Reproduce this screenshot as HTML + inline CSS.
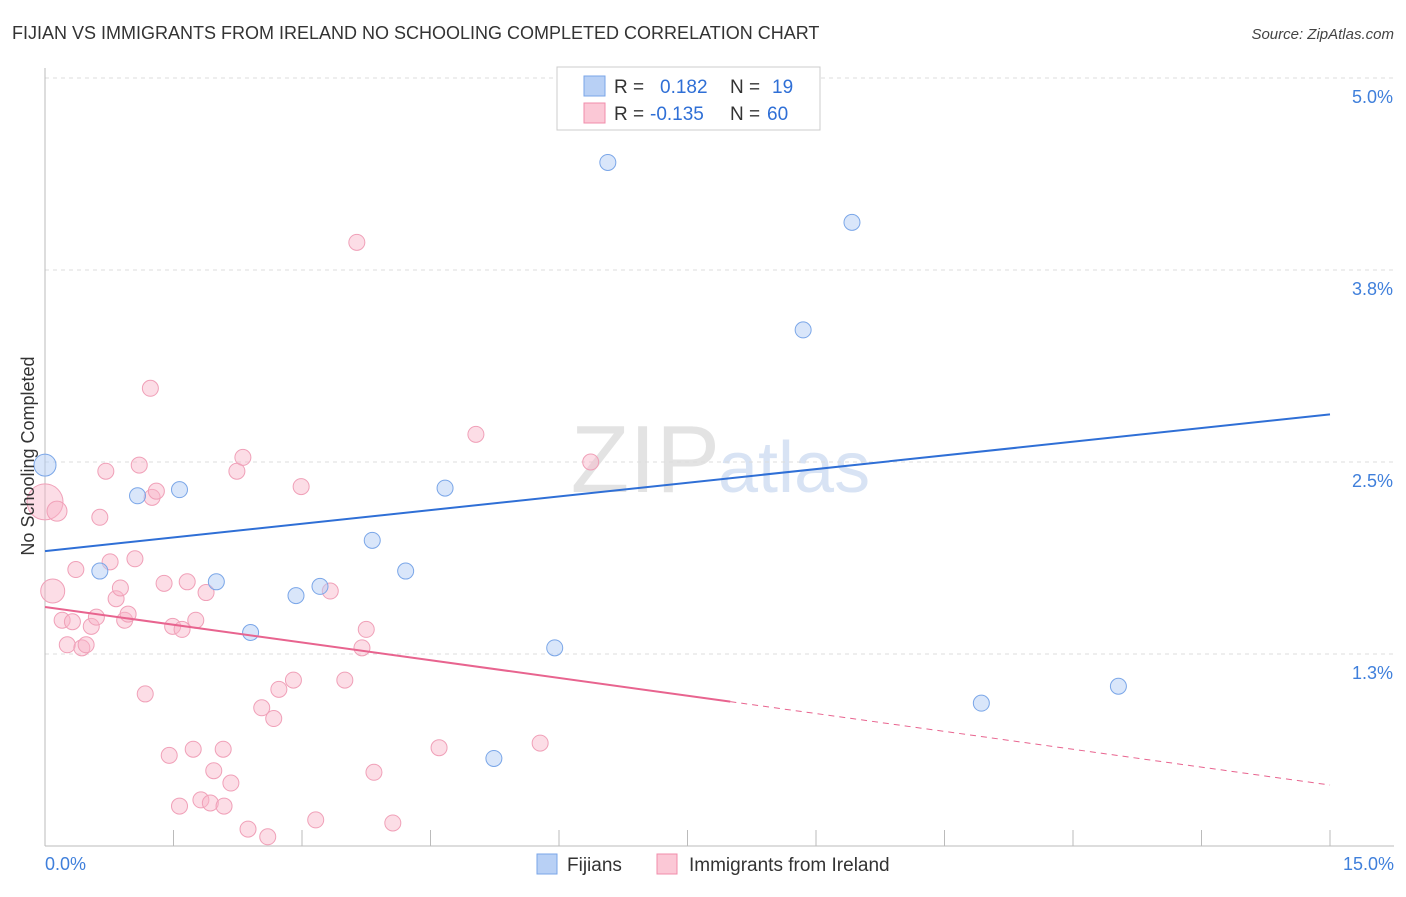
<!DOCTYPE html>
<html><head><meta charset="utf-8"><style>
body{margin:0;background:#fff;font-family:"Liberation Sans",sans-serif;}
svg text{font-family:"Liberation Sans",sans-serif;}
</style></head><body>
<svg id="chart" width="1406" height="892" xmlns="http://www.w3.org/2000/svg">
<text x="12" y="39" font-size="18" fill="#333">FIJIAN VS IMMIGRANTS FROM IRELAND NO SCHOOLING COMPLETED CORRELATION CHART</text>
<text x="1394" y="39" font-size="15" fill="#444" text-anchor="end" font-style="italic">Source: ZipAtlas.com</text>
<text x="720" y="492" font-size="96" fill="#ddd" text-anchor="end" font-family="Liberation Serif" opacity="0.8">ZIP</text>
<text x="718" y="492" font-size="72" fill="#c8d8f0" opacity="0.7">atlas</text>
<g id="grid"></g>
<g id="axes"></g>
<g id="marks"></g>
<text transform="translate(34,456) rotate(-90)" font-size="18" fill="#333" text-anchor="middle">No Schooling Completed</text>
<g>
<rect x="557" y="67" width="263" height="63" fill="#fff" stroke="#ccc"/>
<rect x="584" y="76" width="21" height="20" fill="#b8d0f5" stroke="#7aa6e8"/>
<rect x="584" y="103" width="21" height="20" fill="#fbc8d6" stroke="#f08cab"/>
<text x="614" y="93" font-size="19" fill="#333">R =</text>
<text x="660" y="93" font-size="19" fill="#2f6fd6">0.182</text>
<text x="730" y="93" font-size="19" fill="#333">N =</text>
<text x="772" y="93" font-size="19" fill="#2f6fd6">19</text>
<text x="614" y="120" font-size="19" fill="#333">R =</text>
<text x="650" y="120" font-size="19" fill="#2f6fd6">-0.135</text>
<text x="730" y="120" font-size="19" fill="#333">N =</text>
<text x="767" y="120" font-size="19" fill="#2f6fd6">60</text>
</g>
<g>
<rect x="537" y="854" width="20" height="20" fill="#b8d0f5" stroke="#7aa6e8"/>
<text x="567" y="871" font-size="19" fill="#333">Fijians</text>
<rect x="657" y="854" width="20" height="20" fill="#fbc8d6" stroke="#f08cab"/>
<text x="689" y="871" font-size="19" fill="#333">Immigrants from Ireland</text>
</g>
</svg>
<script>
const yTicks=[5.0,3.75,2.5,1.25];
const yTickLabels=["5.0%","3.8%","2.5%","1.3%"];
const xTickLabels=["0.0%","15.0%"];
const fijiX=[0.0,1.08,1.57,0.64,2.0,2.4,2.93,3.21,3.82,4.21,4.67,5.95,5.24,6.57,9.42,8.85,10.93,12.53,8.57];
const fijiY=[2.48,2.28,2.32,1.79,1.72,1.39,1.63,1.69,1.99,1.79,2.33,1.29,0.57,4.45,4.06,3.36,0.93,1.04,4.95];
const fijiR=[11,8,8,8,8,8,8,8,8,8,8,8,8,8,8,8,8,8,8];
const irX=[0.0,0.14,0.09,0.36,0.2,0.32,0.26,0.43,0.48,0.54,0.6,0.64,0.71,0.76,0.83,0.88,0.93,0.97,1.05,1.1,1.17,1.23,1.25,1.3,1.39,1.45,1.49,1.57,1.6,1.66,1.73,1.76,1.82,1.88,1.93,1.97,2.08,2.09,2.17,2.24,2.31,2.37,2.53,2.6,2.67,2.73,2.9,2.99,3.16,3.33,3.5,3.64,3.7,3.75,3.84,4.06,4.6,5.03,5.78,6.37];
const irY=[2.24,2.18,1.66,1.8,1.47,1.46,1.31,1.29,1.31,1.43,1.49,2.14,2.44,1.85,1.61,1.68,1.47,1.51,1.87,2.48,0.99,2.98,2.27,2.31,1.71,0.59,1.43,0.26,1.41,1.72,0.63,1.47,0.3,1.65,0.28,0.49,0.63,0.26,0.41,2.44,2.53,0.11,0.9,0.06,0.83,1.02,1.08,2.34,0.17,1.66,1.08,3.93,1.29,1.41,0.48,0.15,0.64,2.68,0.67,2.5];
const irR=[18,10,12,8,8,8,8,8,8,8,8,8,8,8,8,8,8,8,8,8,8,8,8,8,8,8,8,8,8,8,8,8,8,8,8,8,8,8,8,8,8,8,8,8,8,8,8,8,8,8,8,8,8,8,8,8,8,8,8,8];
const fijiLine=[1.92,2.81];
const irLine=[1.556,0.94,0.397];
const irSolidEnd=8.0;
const X=v=>45+v*(1285/15);
const Y=v=>846-v*153.6;
const NS="http://www.w3.org/2000/svg";
function mk(tag,parent,attrs){const e=document.createElementNS(NS,tag);for(const k in attrs)e.setAttribute(k,attrs[k]);parent.appendChild(e);return e;}
const grid=document.getElementById('grid'),axes=document.getElementById('axes'),marks=document.getElementById('marks');
yTicks.forEach((t,i)=>{
 const l=mk('line',grid,{x1:45,x2:1394,y1:Y(t),y2:Y(t),stroke:'#ddd','stroke-dasharray':'4,4'});
 
 
 const tx=mk('text',axes,{x:1393,y:Y(t)+25,'font-size':18,fill:'#3f7fdb','text-anchor':'end'});
 tx.textContent=yTickLabels[i];
 
 
});
const ax=mk('line',axes,{x1:45,x2:1394,y1:846,y2:846,stroke:'#bbb'});


const ay=mk('line',axes,{x1:45,x2:45,y1:68,y2:846,stroke:'#bbb'});


for(let i=1;i<=10;i++){const v=i*1.5;const t=mk('line',axes,{x1:X(v),x2:X(v),y1:830,y2:846,stroke:'#bbb'});
 
 }
[[0,'start',45],[15,'end',1394]].forEach((a,i)=>{const t=mk('text',axes,{x:a[2],y:870,'font-size':18,fill:'#3f7fdb','text-anchor':a[1]});t.textContent=xTickLabels[i];
 
 });
irX.forEach((x,i)=>{const c=mk('circle',marks,{cx:X(x),cy:Y(irY[i]),r:irR[i],fill:'rgba(248,180,200,0.45)',stroke:'#f0a0b8','stroke-width':1});
 
 });
fijiX.forEach((x,i)=>{const c=mk('circle',marks,{cx:X(x),cy:Y(fijiY[i]),r:fijiR[i],fill:'rgba(180,205,245,0.5)',stroke:'#7aa6e8','stroke-width':1});
 
 });
const fl=mk('line',marks,{x1:X(0),y1:Y(fijiLine[0]),x2:X(15),y2:Y(fijiLine[1]),stroke:'#2f6fd6','stroke-width':2});


const pl=mk('line',marks,{x1:X(0),y1:Y(irLine[0]),x2:X(irSolidEnd),y2:Y(irLine[1]),stroke:'#e8648f','stroke-width':2});


const pd=mk('line',marks,{x1:X(irSolidEnd),y1:Y(irLine[1]),x2:X(15),y2:Y(irLine[2]),stroke:'#e8648f','stroke-width':1,'stroke-dasharray':'6,5'});


</script>
</body></html>
